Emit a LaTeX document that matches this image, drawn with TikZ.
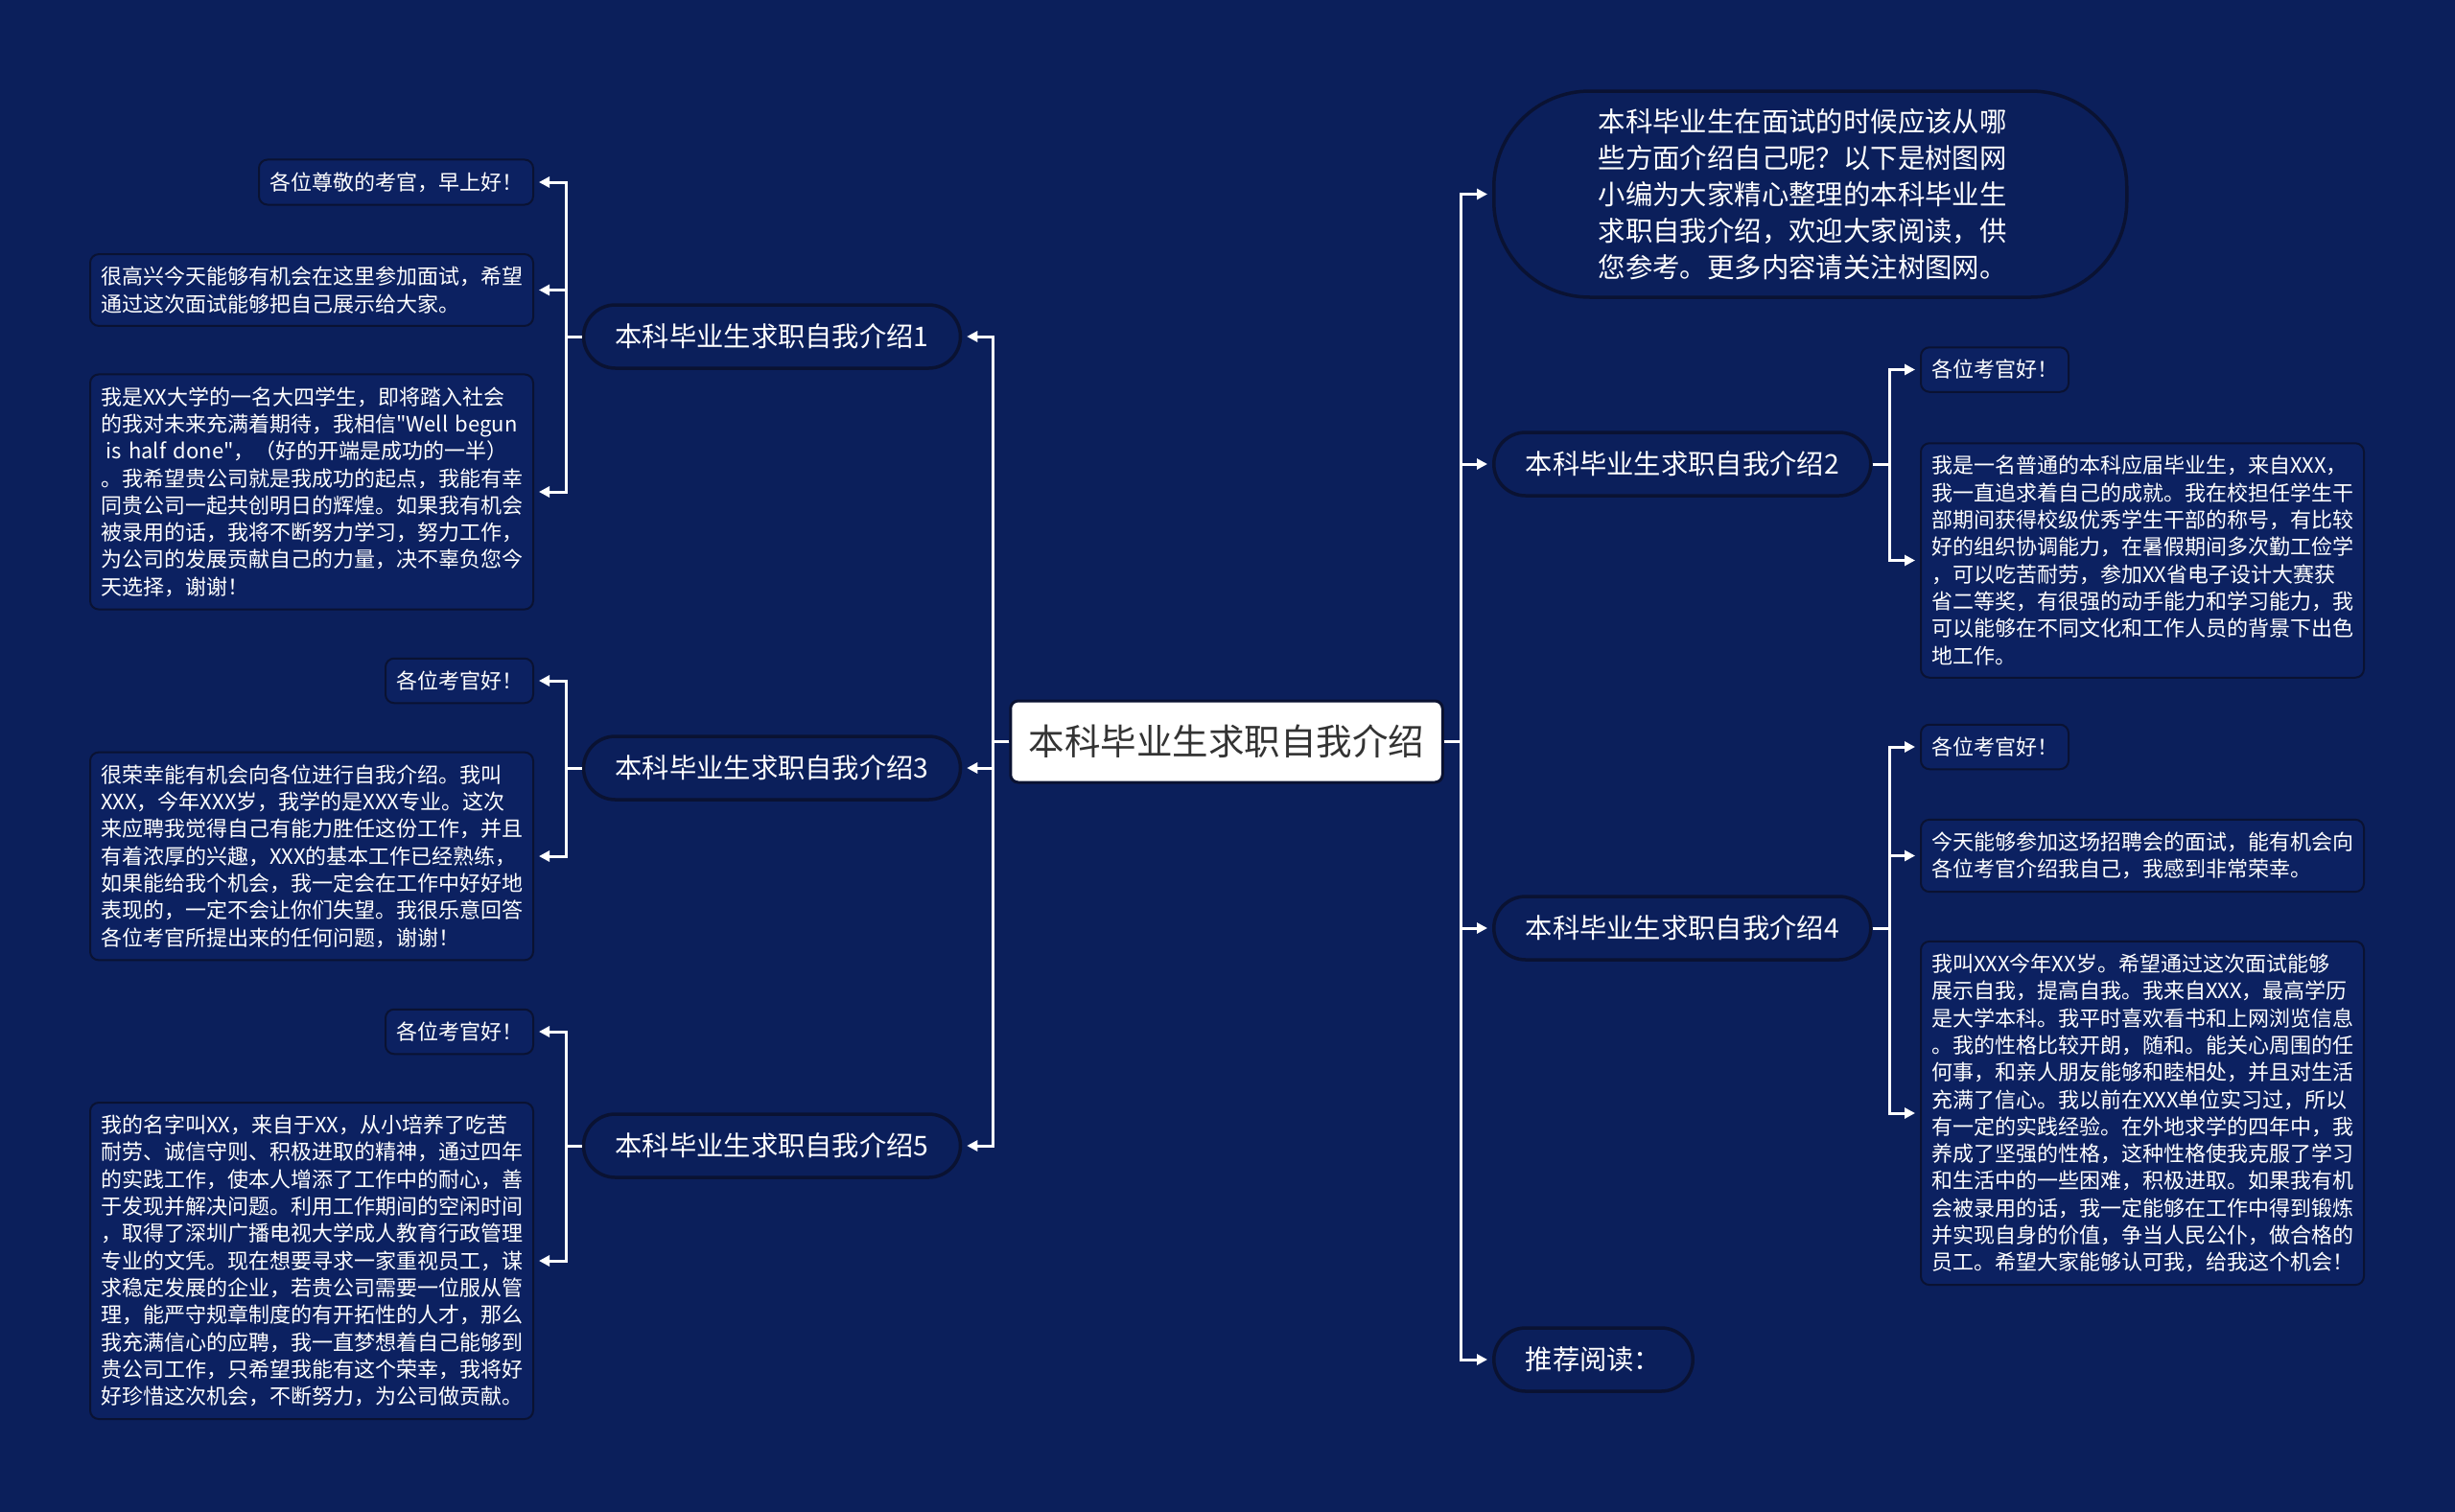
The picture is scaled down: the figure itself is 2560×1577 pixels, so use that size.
\documentclass[tikz,border=0pt]{standalone}
\usepackage{fontspec}
\setmainfont{Noto Sans CJK SC}
\newfontfamily\plainq{Noto Sans CJK SC}
\newcommand{\sq}{{\plainq\symbol{34}}}
\usetikzlibrary{arrows.meta}
\definecolor{bg}{HTML}{0B1F5B}
\definecolor{leaffill}{HTML}{0C2161}
\definecolor{bord}{HTML}{0A1232}
\definecolor{ctrtext}{HTML}{333333}
\begin{document}
\begin{tikzpicture}[x=1pt,y=-1pt,
  leaf/.style={draw=bord,line width=2pt,fill=leaffill,rounded corners=9pt,text=white,align=left,inner xsep=11pt,inner ysep=13pt,font=\fontsize{22pt}{28.3pt}\selectfont},
  wide/.style={text width=440pt},
  branch/.style={draw=bord,line width=3.5pt,fill=bg,rounded corners=33pt,text=white,minimum height=66pt,inner xsep=33pt,font=\fontsize{28.3pt}{34pt}\selectfont},
  intro/.style={draw=bord,line width=3.5pt,fill=bg,rounded corners=100pt,text=white,minimum height=215pt,minimum width=660pt,align=left,font=\fontsize{28.4pt}{38pt}\selectfont},
  ctrbox/.style={draw=bord,line width=3pt,fill=white,rounded corners=8pt,text=ctrtext,minimum height=85pt,inner xsep=19pt,font=\fontsize{37.5pt}{45pt}\selectfont},
  conn/.style={draw=white,line width=3pt,-{Triangle[length=11pt,width=11pt]},shorten >=5pt}
]
\fill[bg] (0,0) rectangle (2560,1577);
\useasboundingbox (0,0) rectangle (2560,1577);

% centre
\node[ctrbox] (ctr) at (1279,773.5) {本科毕业生求职自我介绍};

% trunks
\coordinate (lmain) at (1035,0);
\coordinate (lsub) at (590,0);
\coordinate (rmain) at (1523,0);
\coordinate (rsub) at (1970,0);

% left branches
\node[branch] (b1) at (805,351) {本科毕业生求职自我介绍1};
\node[branch] (b3) at (805,801) {本科毕业生求职自我介绍3};
\node[branch] (b5) at (805,1195) {本科毕业生求职自我介绍5};

% right branches
\node[intro,anchor=west] (intro) at (1556,202.5) {本科毕业生在面试的时候应该从哪\\些方面介绍自己呢？以下是树图网\\小编为大家精心整理的本科毕业生\\求职自我介绍，欢迎大家阅读，供\\您参考。更多内容请关注树图网。\hspace*{16pt}};
\node[branch,anchor=west] (b2) at (1556,484) {本科毕业生求职自我介绍2};
\node[branch,anchor=west] (b4) at (1556,968) {本科毕业生求职自我介绍4};
\node[branch,anchor=west] (rec) at (1556,1418) {推荐阅读：};

% left leaves
\node[leaf,anchor=east] (l1a) at (557,190) {各位尊敬的考官，早上好！};
\node[leaf,wide,anchor=east] (l1b) at (557,302.5) {很高兴今天能够有机会在这里参加面试，希望\\通过这次面试能够把自己展示给大家。};
\node[leaf,wide,anchor=east] (l1c) at (557,513) {我是XX大学的一名大四学生，即将踏入社会\\\mbox{的我对未来充满着期待，我相信\sq Well begun}\\\mbox{\hspace*{0.25em}is half done\sq，（好的开端是成功的一半）}\\。我希望贵公司就是我成功的起点，我能有幸\\同贵公司一起共创明日的辉煌。如果我有机会\\被录用的话，我将不断努力学习，努力工作，\\为公司的发展贡献自己的力量，决不辜负您今\\天选择，谢谢！};
\node[leaf,anchor=east] (l3a) at (557,710) {各位考官好！};
\node[leaf,wide,anchor=east] (l3b) at (557,893) {很荣幸能有机会向各位进行自我介绍。我叫\\XXX，今年XXX岁，我学的是XXX专业。这次\\来应聘我觉得自己有能力胜任这份工作，并且\\有着浓厚的兴趣，XXX的基本工作已经熟练，\\如果能给我个机会，我一定会在工作中好好地\\表现的，一定不会让你们失望。我很乐意回答\\各位考官所提出来的任何问题，谢谢！};
\node[leaf,anchor=east] (l5a) at (557,1076) {各位考官好！};
\node[leaf,wide,anchor=east] (l5b) at (557,1315) {我的名字叫XX，来自于XX，从小培养了吃苦\\耐劳、诚信守则、积极进取的精神，通过四年\\的实践工作，使本人增添了工作中的耐心，善\\于发现并解决问题。利用工作期间的空闲时间\\，取得了深圳广播电视大学成人教育行政管理\\专业的文凭。现在想要寻求一家重视员工，谋\\求稳定发展的企业，若贵公司需要一位服从管\\理，能严守规章制度的有开拓性的人才，那么\\我充满信心的应聘，我一直梦想着自己能够到\\贵公司工作，只希望我能有这个荣幸，我将好\\好珍惜这次机会，不断努力，为公司做贡献。};

% right leaves
\node[leaf,anchor=west] (r2a) at (2002,385.5) {各位考官好！};
\node[leaf,wide,anchor=west] (r2b) at (2002,584.5) {我是一名普通的本科应届毕业生，来自XXX，\\我一直追求着自己的成就。我在校担任学生干\\部期间获得校级优秀学生干部的称号，有比较\\好的组织协调能力，在暑假期间多次勤工俭学\\，可以吃苦耐劳，参加XX省电子设计大赛获\\省二等奖，有很强的动手能力和学习能力，我\\可以能够在不同文化和工作人员的背景下出色\\地工作。};
\node[leaf,anchor=west] (r4a) at (2002,779) {各位考官好！};
\node[leaf,wide,anchor=west] (r4b) at (2002,892.5) {今天能够参加这场招聘会的面试，能有机会向\\各位考官介绍我自己，我感到非常荣幸。};
\node[leaf,wide,anchor=west] (r4c) at (2002,1161) {我叫XXX今年XX岁。希望通过这次面试能够\\展示自我，提高自我。我来自XXX，最高学历\\是大学本科。我平时喜欢看书和上网浏览信息\\。我的性格比较开朗，随和。能关心周围的任\\何事，和亲人朋友能够和睦相处，并且对生活\\充满了信心。我以前在XXX单位实习过，所以\\有一定的实践经验。在外地求学的四年中，我\\养成了坚强的性格，这种性格使我克服了学习\\和生活中的一些困难，积极进取。如果我有机\\会被录用的话，我一定能够在工作中得到锻炼\\并实现自身的价值，争当人民公仆，做合格的\\员工。希望大家能够认可我，给我这个机会！};

% main connectors
\foreach \b in {b1,b3,b5}
  \draw[conn] (ctr.west) -- (ctr.west -| lmain) |- (\b.east);
\foreach \b in {intro,b2,b4,rec}
  \draw[conn] (ctr.east) -- (ctr.east -| rmain) |- (\b.west);

% sub connectors
\foreach \l in {l1a,l1b,l1c}
  \draw[conn] (b1.west) -- (b1.west -| lsub) |- (\l.east);
\foreach \l in {l3a,l3b}
  \draw[conn] (b3.west) -- (b3.west -| lsub) |- (\l.east);
\foreach \l in {l5a,l5b}
  \draw[conn] (b5.west) -- (b5.west -| lsub) |- (\l.east);
\foreach \l in {r2a,r2b}
  \draw[conn] (b2.east) -- (b2.east -| rsub) |- (\l.west);
\foreach \l in {r4a,r4b,r4c}
  \draw[conn] (b4.east) -- (b4.east -| rsub) |- (\l.west);
\end{tikzpicture}
\end{document}
